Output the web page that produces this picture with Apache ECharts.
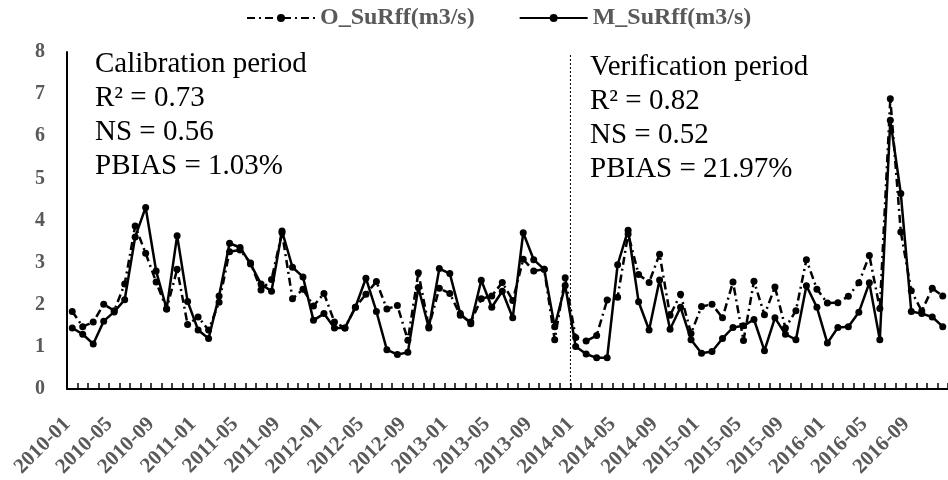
<!DOCTYPE html>
<html>
<head>
<meta charset="utf-8">
<script src="https://cdn.jsdelivr.net/npm/echarts@6/dist/echarts.min.js"></script>
<style>html,body{margin:0;padding:0;background:#fff;}#c{width:948px;height:480px;}</style>
</head>
<body>
<div id="c"></div>
<script>
const months = [
 '2010-01','2010-02','2010-03','2010-04','2010-05','2010-06','2010-07','2010-08','2010-09','2010-10','2010-11','2010-12',
 '2011-01','2011-02','2011-03','2011-04','2011-05','2011-06','2011-07','2011-08','2011-09','2011-10','2011-11','2011-12',
 '2012-01','2012-02','2012-03','2012-04','2012-05','2012-06','2012-07','2012-08','2012-09','2012-10','2012-11','2012-12',
 '2013-01','2013-02','2013-03','2013-04','2013-05','2013-06','2013-07','2013-08','2013-09','2013-10','2013-11','2013-12',
 '2014-01','2014-02','2014-03','2014-04','2014-05','2014-06','2014-07','2014-08','2014-09','2014-10','2014-11','2014-12',
 '2015-01','2015-02','2015-03','2015-04','2015-05','2015-06','2015-07','2015-08','2015-09','2015-10','2015-11','2015-12',
 '2016-01','2016-02','2016-03','2016-04','2016-05','2016-06','2016-07','2016-08','2016-09','2016-10','2016-11','2016-12'
];
// Observed surface runoff (m3/s)
const observed = [
 1.84,1.48,1.59,2.01,1.86,2.49,3.87,3.22,2.54,1.90,2.84,1.53,
 1.71,1.40,2.06,3.26,3.30,2.99,2.35,2.60,3.71,2.14,2.37,1.97,
 2.27,1.59,1.45,1.94,2.25,2.55,1.90,1.98,1.16,2.76,1.48,2.39,
 2.27,1.75,1.59,2.14,2.21,2.53,2.10,3.08,2.80,2.84,1.17,2.64,
 1.22,1.14,1.27,2.11,2.18,3.68,2.72,2.53,3.20,1.75,2.25,1.32,
 1.96,2.01,1.69,2.54,1.15,2.56,1.76,2.42,1.45,1.86,3.07,2.37,
 2.04,2.05,2.20,2.52,3.17,1.91,6.89,3.73,2.33,1.85,2.39,2.21
];
// Modelled surface runoff (m3/s)
const modelled = [
 1.45,1.30,1.07,1.61,1.83,2.12,3.61,4.31,2.80,1.90,3.64,2.08,
 1.40,1.20,2.21,3.46,3.36,2.97,2.49,2.32,3.75,2.89,2.66,1.63,
 1.79,1.45,1.45,1.94,2.63,1.84,0.93,0.82,0.87,2.41,1.45,2.86,
 2.74,1.79,1.55,2.58,1.94,2.32,1.69,3.71,3.07,2.84,1.48,2.46,
 1.01,0.83,0.74,0.74,2.95,3.77,2.07,1.40,2.59,1.42,1.94,1.17,
 0.85,0.89,1.20,1.46,1.50,1.65,0.91,1.69,1.30,1.17,2.45,1.94,
 1.09,1.46,1.48,1.82,2.52,1.17,6.38,4.64,1.84,1.79,1.71,1.48
];
const seriesNames = ['O_SuRff(m3/s)', 'M_SuRff(m3/s)'];
const yTicks = [0,1,2,3,4,5,6,7,8];
const splitBoundary = 48; // start of verification period (2014-01)
const calibText = ['Calibration period', 'R\u00b2 = 0.73', 'NS = 0.56', 'PBIAS = 1.03%'];
const verifText = ['Verification period', 'R\u00b2 = 0.82', 'NS = 0.52', 'PBIAS = 21.97%'];

const FONT = '"Liberation Serif", "Times New Roman", serif';
const chart = echarts.init(document.getElementById('c'), null, {renderer: 'canvas'});
chart.setOption({
  animation: false,
  backgroundColor: '#fff',
  grid: {left: 67, top: 52, width: 887, height: 343, containLabel: false},
  legend: {
    data: seriesNames,
    top: 1, left: 241,
    itemWidth: 68, itemHeight: 10, itemGap: 44,
    textStyle: {fontFamily: FONT, fontWeight: 'bold', fontSize: 24, color: '#595959'}
  },
  xAxis: [{
    type: 'category', data: months, boundaryGap: true,
    axisLine: {lineStyle: {color: '#000', width: 2}},
    axisTick: {show: true, inside: true, length: 6, interval: 0, lineStyle: {color: '#000', width: 1.5}},
    axisLabel: {interval: 3, rotate: 45, margin: 27, padding: [0, 7, 0, 0], fontFamily: FONT, fontWeight: 'bold', fontSize: 21, color: '#595959'},
    splitLine: {show: false}
  }, {
    type: 'value', min: 0, max: months.length, show: false
  }],
  yAxis: {
    type: 'value', min: yTicks[0], max: yTicks[yTicks.length - 1], interval: 1,
    axisLine: {show: true, lineStyle: {color: '#000', width: 2}},
    axisTick: {show: false},
    splitLine: {show: false},
    axisLabel: {margin: 22, fontFamily: FONT, fontWeight: 'bold', fontSize: 20, color: '#595959'}
  },
  graphic: [{
    type: 'text', left: 95, top: 47, silent: true,
    style: {text: calibText.join('\n'), font: '29px ' + FONT, fill: '#000', lineHeight: 34}
  }, {
    type: 'text', left: 590, top: 50, silent: true,
    style: {text: verifText.join('\n'), font: '29px ' + FONT, fill: '#000', lineHeight: 34}
  }],
  series: [{
    name: seriesNames[0], type: 'line', data: observed,
    symbol: 'circle', symbolSize: 7, showSymbol: true, showAllSymbol: true,
    itemStyle: {color: '#000'},
    lineStyle: {color: '#000', width: 2.5, type: [8, 4, 2, 4]},
    z: 2
  }, {
    name: seriesNames[1], type: 'line', data: modelled,
    symbol: 'circle', symbolSize: 7, showSymbol: true, showAllSymbol: true,
    itemStyle: {color: '#000'},
    lineStyle: {color: '#000', width: 2.5, type: 'solid'},
    z: 3
  }, {
    name: 'split', type: 'line', xAxisIndex: 1,
    data: [[splitBoundary, 0], [splitBoundary, 7.93]],
    symbol: 'none', silent: true,
    lineStyle: {color: '#000', width: 1, type: [2, 2]},
    z: 1
  }]
});
</script>
</body>
</html>
